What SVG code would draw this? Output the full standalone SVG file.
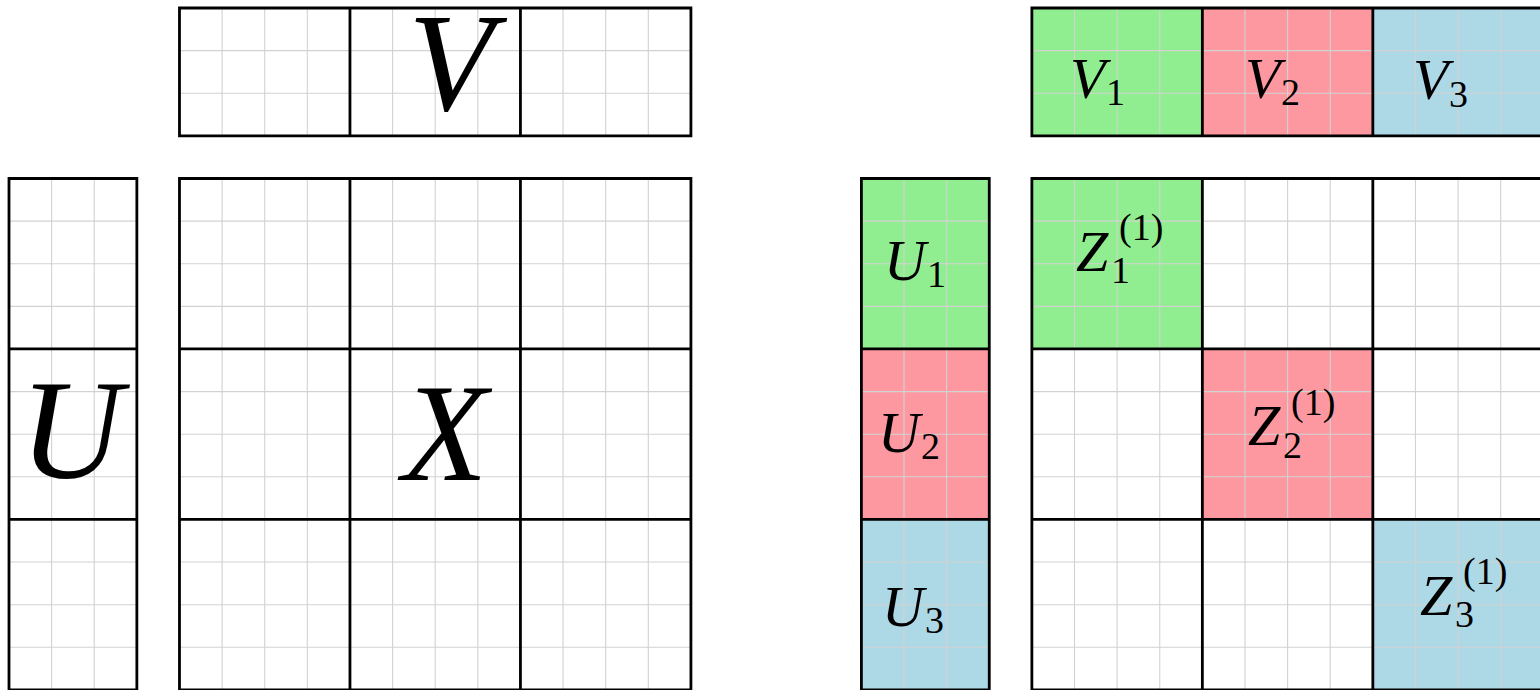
<svg xmlns="http://www.w3.org/2000/svg" width="1540" height="690" viewBox="0 0 1540 690">
<style>
.bg{fill:#ffffff}
.g{fill:#90EE90}
.r{fill:#FD98A0}
.b{fill:#ADD8E6}
.grid{fill:none;stroke:#d2d2d2;stroke-width:1.1}
.thick{fill:none;stroke:#000;stroke-width:2.8;stroke-linejoin:miter}
.big{font-family:"Liberation Serif",serif;font-style:italic;fill:#000}
.lab{font-family:"Liberation Serif",serif;font-style:italic;font-size:58px;fill:#000}
.sub{font-family:"Liberation Serif",serif;font-style:normal;font-size:38px;fill:#000}
</style>
<rect x="0" y="0" width="1540" height="690" fill="#fff"/>

<g id="V">
<rect class="bg" x="179.48" y="8" width="511.44" height="127.86"/>
<path class="grid" d="M222.10 8V135.86M264.72 8V135.86M307.34 8V135.86M349.96 8V135.86M392.58 8V135.86M435.20 8V135.86M477.82 8V135.86M520.44 8V135.86M563.06 8V135.86M605.68 8V135.86M648.30 8V135.86M179.48 50.62H690.92M179.48 93.24H690.92"/>
<path class="thick" d="M179.48 8H690.92V135.86H179.48ZM349.96 8V135.86M520.44 8V135.86"/>
<text class="big" x="451" y="110" font-size="140" text-anchor="middle">V</text>
</g>

<g id="U">
<rect class="bg" x="9" y="178.48" width="127.86" height="511.44"/>
<path class="grid" d="M51.62 178.48V689.92M94.24 178.48V689.92M9 221.10H136.86M9 263.72H136.86M9 306.34H136.86M9 391.58H136.86M9 434.20H136.86M9 476.82H136.86M9 562.06H136.86M9 604.68H136.86M9 647.30H136.86"/>
<path class="thick" d="M9 178.48H136.86V689.92H9ZM9 348.96H136.86M9 519.44H136.86"/>
<text class="big" x="71" y="478" font-size="142" text-anchor="middle">U</text>
</g>

<g id="X">
<rect class="bg" x="179.48" y="178.48" width="511.44" height="511.44"/>
<path class="grid" d="M222.10 178.48V689.92M264.72 178.48V689.92M307.34 178.48V689.92M392.58 178.48V689.92M435.20 178.48V689.92M477.82 178.48V689.92M563.06 178.48V689.92M605.68 178.48V689.92M648.30 178.48V689.92M179.48 221.10H690.92M179.48 263.72H690.92M179.48 306.34H690.92M179.48 391.58H690.92M179.48 434.20H690.92M179.48 476.82H690.92M179.48 562.06H690.92M179.48 604.68H690.92M179.48 647.30H690.92"/>
<path class="thick" d="M179.48 178.48H690.92V689.92H179.48ZM349.96 178.48V689.92M520.44 178.48V689.92M179.48 348.96H690.92M179.48 519.44H690.92"/>
<text class="big" x="445" y="480" font-size="140" text-anchor="middle">X</text>
</g>

<g id="V123">
<rect class="g" x="1031.88" y="8" width="170.48" height="127.86"/>
<rect class="r" x="1202.36" y="8" width="170.48" height="127.86"/>
<rect class="b" x="1372.84" y="8" width="170.48" height="127.86"/>
<path class="grid" d="M1074.50 8V135.86M1117.12 8V135.86M1159.74 8V135.86M1244.98 8V135.86M1287.60 8V135.86M1330.22 8V135.86M1415.46 8V135.86M1458.08 8V135.86M1500.70 8V135.86M1031.88 50.62H1543.32M1031.88 93.24H1543.32"/>
<path class="thick" d="M1031.88 8H1543.32V135.86H1031.88ZM1202.36 8V135.86M1372.84 8V135.86"/>
<text class="lab" x="1070" y="98">V<tspan class="sub" x="1106" y="105">1</tspan></text>
<text class="lab" x="1245" y="98">V<tspan class="sub" x="1281" y="105">2</tspan></text>
<text class="lab" x="1413" y="99">V<tspan class="sub" x="1449" y="107">3</tspan></text>
</g>

<g id="U123">
<rect class="g" x="861.40" y="178.48" width="127.86" height="170.48"/>
<rect class="r" x="861.40" y="348.96" width="127.86" height="170.48"/>
<rect class="b" x="861.40" y="519.44" width="127.86" height="170.48"/>
<path class="grid" d="M904.02 178.48V689.92M946.64 178.48V689.92M861.40 221.10H989.26M861.40 263.72H989.26M861.40 306.34H989.26M861.40 391.58H989.26M861.40 434.20H989.26M861.40 476.82H989.26M861.40 562.06H989.26M861.40 604.68H989.26M861.40 647.30H989.26"/>
<path class="thick" d="M861.40 178.48H989.26V689.92H861.40ZM861.40 348.96H989.26M861.40 519.44H989.26"/>
<text class="lab" x="884" y="280">U<tspan class="sub" x="927" y="287">1</tspan></text>
<text class="lab" x="878" y="452">U<tspan class="sub" x="921" y="459">2</tspan></text>
<text class="lab" x="882" y="626">U<tspan class="sub" x="925" y="633">3</tspan></text>
</g>

<g id="Z">
<rect class="bg" x="1031.88" y="178.48" width="511.44" height="511.44"/>
<rect class="g" x="1031.88" y="178.48" width="170.48" height="170.48"/>
<rect class="r" x="1202.36" y="348.96" width="170.48" height="170.48"/>
<rect class="b" x="1372.84" y="519.44" width="170.48" height="170.48"/>
<path class="grid" d="M1074.50 178.48V689.92M1117.12 178.48V689.92M1159.74 178.48V689.92M1244.98 178.48V689.92M1287.60 178.48V689.92M1330.22 178.48V689.92M1415.46 178.48V689.92M1458.08 178.48V689.92M1500.70 178.48V689.92M1031.88 221.10H1543.32M1031.88 263.72H1543.32M1031.88 306.34H1543.32M1031.88 391.58H1543.32M1031.88 434.20H1543.32M1031.88 476.82H1543.32M1031.88 562.06H1543.32M1031.88 604.68H1543.32M1031.88 647.30H1543.32"/>
<path class="thick" d="M1031.88 178.48H1543.32V689.92H1031.88ZM1202.36 178.48V689.92M1372.84 178.48V689.92M1031.88 348.96H1543.32M1031.88 519.44H1543.32"/>
<text class="lab" x="1076" y="271">Z<tspan class="sub" x="1111" y="283">1</tspan><tspan class="sub" x="1119" y="240">(1)</tspan></text>
<text class="lab" x="1248" y="445">Z<tspan class="sub" x="1283" y="458">2</tspan><tspan class="sub" x="1291" y="415">(1)</tspan></text>
<text class="lab" x="1420" y="615">Z<tspan class="sub" x="1455" y="627">3</tspan><tspan class="sub" x="1463" y="584">(1)</tspan></text>
</g>
</svg>
